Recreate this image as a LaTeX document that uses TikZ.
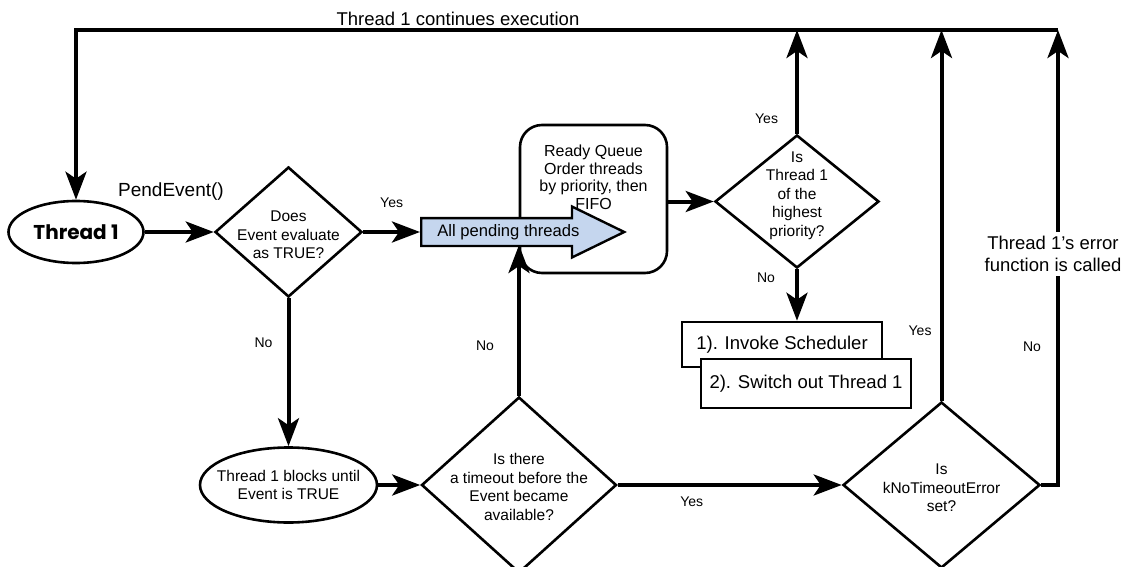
\documentclass[tikz,border=0pt]{standalone}
\usepackage{fontspec}
\setmainfont{Liberation Sans}
\newfontfamily\threadfont{Poppins}
\usetikzlibrary{shapes.geometric,shapes.arrows,arrows.meta,calc}
\definecolor{pendblue}{RGB}{197,214,238}

\begin{document}
\begin{tikzpicture}[
	x=1pt, y=-1pt,
	flow/.style={line width=4pt, -{Stealth[length=28pt,width=21pt,inset=7pt]}},
	decision/.style={diamond, draw, line width=2.6pt, inner sep=0pt},
	terminal/.style={ellipse, draw, line width=2.6pt, inner sep=0pt},
	stepbox/.style={rectangle, draw, line width=2.6pt, fill=white, inner sep=0pt,
		font=\fontsize{18.5}{20}\selectfont},
	dtext/.style={align=center, inner sep=0pt, font=\fontsize{15.5}{18.5}\selectfont},
	qtext/.style={align=center, inner sep=0pt, font=\fontsize{16}{17.7}\selectfont},
	lbl/.style={inner sep=0pt, font=\fontsize{14}{16}\selectfont},
	big/.style={inner sep=0pt, font=\fontsize{18.5}{22}\selectfont}]
\useasboundingbox (0,0) rectangle (1132,567);

\node[terminal, minimum width=135pt, minimum height=62pt,
	font=\threadfont\bfseries\fontsize{20}{22}\selectfont] (thread) at (76,232) {Thread 1};
\node[big, font=\fontsize{19}{22}\selectfont] (pendcall) at (171,192) {PendEvent()};
\node[big] (cont) at (458,19) {Thread 1 continues execution};
\coordinate (topright) at (1058,30);

\node[decision, minimum width=147pt, minimum height=130pt,
	label={[dtext,yshift=-3pt]center:{Does\\Event evaluate\\as TRUE?}}] (event) at (288.5,232) {};
\node[draw, line width=2.6pt, rounded corners=22pt, minimum width=147pt, minimum height=148pt,
	label={[qtext,anchor=north,yshift=-21pt]north:{Ready Queue\\Order threads\\by priority, then\\FIFO}}] (queue) at (593.5,199) {};
\node[single arrow, draw, line width=2.4pt, fill=pendblue, minimum height=203pt, minimum width=49pt,
	single arrow head extend=11.5pt, single arrow tip angle=52, inner xsep=0pt, inner ysep=5pt,
	text height=12pt, text depth=3.5pt, font=\fontsize{16.6}{18}\selectfont,
	anchor=tail] (pend) at (420,232) {All pending threads};
\node[decision, minimum width=164pt, minimum height=133pt,
	label={[dtext,yshift=6pt]center:{Is\\Thread 1\\of the\\highest\\priority?}}] (prio) at (797,201.5) {};
\node[stepbox, minimum width=200pt, minimum height=45pt] (invoke) at (782,344.5) {1). Invoke Scheduler};
\node[stepbox, minimum width=210pt, minimum height=49pt] (switch) at (806,383.5) {2). Switch out Thread 1};

\node[terminal, minimum width=177pt, minimum height=75pt,
	label={[dtext]center:{Thread 1 blocks until\\Event is TRUE}}] (blocks) at (288.5,485) {};
\node[decision, minimum width=195pt, minimum height=176pt,
	label={[dtext,yshift=-2pt]center:{Is there\\a timeout before the\\Event became\\available?}}] (timeout) at (519,485) {};
\node[decision, minimum width=197pt, minimum height=166pt,
	label={[dtext,yshift=-3pt]center:{Is\\kNoTimeoutError\\set?}}] (noerr) at (941.5,485) {};
\node[big, align=center, inner sep=4pt] (errtext) at (1053,254) {Thread 1's error\\function is called};

\draw[flow] (topright) -| (thread.north);
\draw[flow] (thread) -- (event);
\draw[flow] (event) -- node[lbl, above=22pt] {Yes} (pend.tail);
\draw[flow] (event.south) -- node[lbl, pos=.3, left=14pt] {No} (blocks.north);
\draw[flow] (blocks) -- (timeout);
\draw[flow] (timeout.north) -- node[lbl, pos=.33, left=23pt] {No} ($(timeout.north |- pend.tail)+(0,13)$);
\draw[flow] (queue.east |- prio.west) -- (prio.west);
\draw[flow] (prio.north) -- node[lbl, pos=.14, left=17pt] {Yes} (prio.north |- topright);
\draw[flow] (prio.south) -- node[lbl, pos=.17, left=20pt] {No} (prio.south |- invoke.north);
\draw[flow] (timeout.east) -- node[lbl, pos=.33, below=10pt] {Yes} (noerr.west);
\draw[flow] (noerr.north) -- node[lbl, pos=.19, left=8pt] {Yes} (noerr.north |- topright);
\draw[line width=4pt] (noerr.east) -| node[lbl, pos=.83, left=15pt] {No} (topright |- errtext.south);
\draw[flow] (topright |- errtext.north) -- (topright);
\end{tikzpicture}
\end{document}
